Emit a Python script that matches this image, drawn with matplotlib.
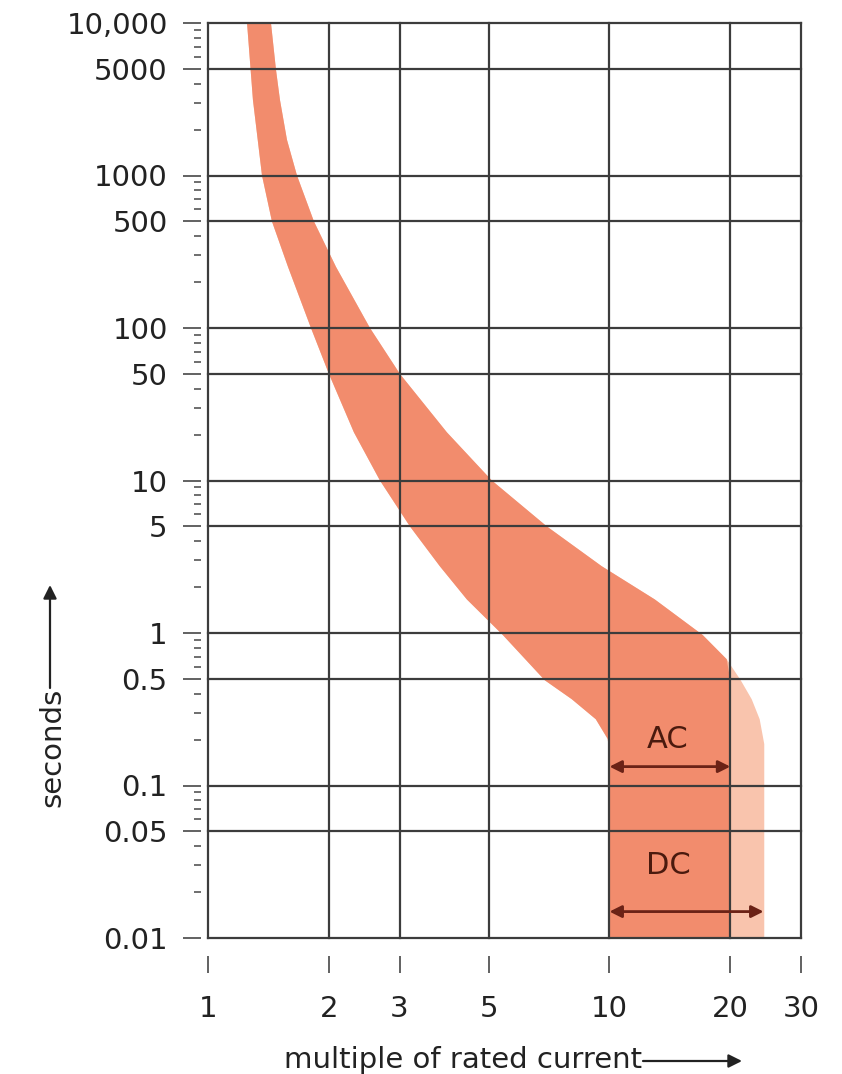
import matplotlib
matplotlib.use("Agg")
import matplotlib.pyplot as plt
import matplotlib.ticker as ticker
import numpy as np

plt.rcParams["font.family"] = ["DejaVu Sans"]

# lower edge of the tripping band (seconds, multiple of rated current)
left_seconds = [10000, 3130, 1000, 500, 252, 100, 50, 20.7, 10.0, 5.0,
                2.74, 1.66, 0.97, 0.49, 0.368, 0.272, 0.202, 0.161, 0.01]
left_current = [1.251, 1.294, 1.363, 1.443, 1.582, 1.805, 2.001, 2.309, 2.681, 3.184,
                3.78, 4.414, 5.425, 6.90, 8.057, 9.246, 9.90, 10, 10]

# upper edge of the tripping band
right_seconds = [10000, 4925, 3130, 1714, 1000, 500, 252, 100, 50, 20.7, 10.0,
                 5.0, 2.74, 1.66, 0.97, 0.673, 0.49, 0.368, 0.272, 0.187, 0.01]
right_current = [1.435, 1.477, 1.511, 1.573, 1.666, 1.836, 2.083, 2.532, 3.006, 3.936,
                 5.093, 6.982, 9.568, 12.97, 17.07, 19.59, 21.23, 22.61, 23.67, 24.3, 24.3]

# instantaneous trip ranges
ac_range = [10, 20]
dc_range = [10, 24.2]

x_ticks = [1, 2, 3, 5, 10, 20, 30]
x_labels = ["1", "2", "3", "5", "10", "20", "30"]
y_ticks = [0.01, 0.05, 0.1, 0.5, 1, 5, 10, 50, 100, 500, 1000, 5000, 10000]
y_labels = ["0.01", "0.05", "0.1", "0.5", "1", "5", "10", "50", "100", "500",
            "1000", "5000", "10,000"]

dark = "#F28C6D"
light = "#F9C4AD"
arrow_color = "#6B2216"
grid_color = "#3C3C3C"
fontsize = 21

fig = plt.figure(figsize=(8.42, 10.74), dpi=100)
ax = fig.add_axes([208 / 842, 1 - 938 / 1074, (801 - 208) / 842, (938 - 23) / 1074])
ax.set_xscale("log")
ax.set_yscale("log")
ax.set_xlim(1, 30)
ax.set_ylim(0.01, 10000)

# Band: light part (DC reach) then the AC part clipped at 20x
band_y = np.concatenate([left_seconds, right_seconds[::-1]])
band_x = np.concatenate([left_current, right_current[::-1]])
band_x_ac = np.concatenate([left_current, np.minimum(right_current, ac_range[1])[::-1]])
ax.fill(band_x, band_y, color=light, lw=0, zorder=1)
ax.fill(band_x_ac, band_y, color=dark, lw=0, zorder=1)

# Ticks and grid
ax.set_xticks(x_ticks)
ax.set_xticklabels(x_labels)
ax.xaxis.set_minor_locator(ticker.NullLocator())
ax.set_yticks(y_ticks)
ax.set_yticklabels(y_labels)
ax.yaxis.set_minor_locator(ticker.LogLocator(base=10, subs=range(2, 10), numticks=30))
ax.yaxis.set_minor_formatter(ticker.NullFormatter())
ax.grid(True, which="major", color=grid_color, linewidth=1.6, clip_on=False)

for s in ax.spines.values():
    s.set_visible(False)
ax.spines["bottom"].set_position(("outward", 13))
ax.spines["left"].set_position(("outward", 5))

ax.tick_params(axis="x", which="major", length=12, width=1.3, color="#555555",
               pad=16, labelsize=fontsize, labelcolor="#222222")
ax.tick_params(axis="y", which="major", length=13, width=1.3, color="#555555",
               pad=11, labelsize=fontsize, labelcolor="#222222")
ax.tick_params(axis="y", which="minor", length=5, width=1.2, color="#555555")

# AC / DC ranges
ax.annotate("", xy=(ac_range[0], 0.133), xytext=(ac_range[1], 0.133),
            arrowprops=dict(arrowstyle="<|-|>", color=arrow_color, lw=2,
                            mutation_scale=18, shrinkA=0, shrinkB=0), zorder=5)
ax.annotate("", xy=(dc_range[0], 0.0149), xytext=(dc_range[1], 0.0149),
            arrowprops=dict(arrowstyle="<|-|>", color=arrow_color, lw=2,
                            mutation_scale=18, shrinkA=0, shrinkB=0), zorder=5)
ax.text(14.0, 0.20, "AC", ha="center", va="center", fontsize=22, color="#4A1A0E")
ax.text(14.0, 0.0297, "DC", ha="center", va="center", fontsize=22, color="#4A1A0E")

# Axis labels with arrows
fig.text(52 / 842, 1 - 747 / 1074, "seconds", rotation=90, ha="center", va="center",
         fontsize=fontsize, color="#222222")
ax.annotate("", xy=(50, 1074 - 585), xytext=(50, 1074 - 688),
            xycoords="figure pixels", textcoords="figure pixels",
            arrowprops=dict(arrowstyle="-|>", color="#222222", lw=1.6,
                            mutation_scale=20, shrinkA=0, shrinkB=0))
fig.text(284 / 842, 1 - 1068 / 1074, "multiple of rated current", ha="left",
         va="baseline", fontsize=fontsize, color="#222222")
ax.annotate("", xy=(742, 1074 - 1061), xytext=(643, 1074 - 1061),
            xycoords="figure pixels", textcoords="figure pixels",
            arrowprops=dict(arrowstyle="-|>", color="#222222", lw=1.6,
                            mutation_scale=20, shrinkA=0, shrinkB=0))

fig.savefig("out.png", dpi=100)
